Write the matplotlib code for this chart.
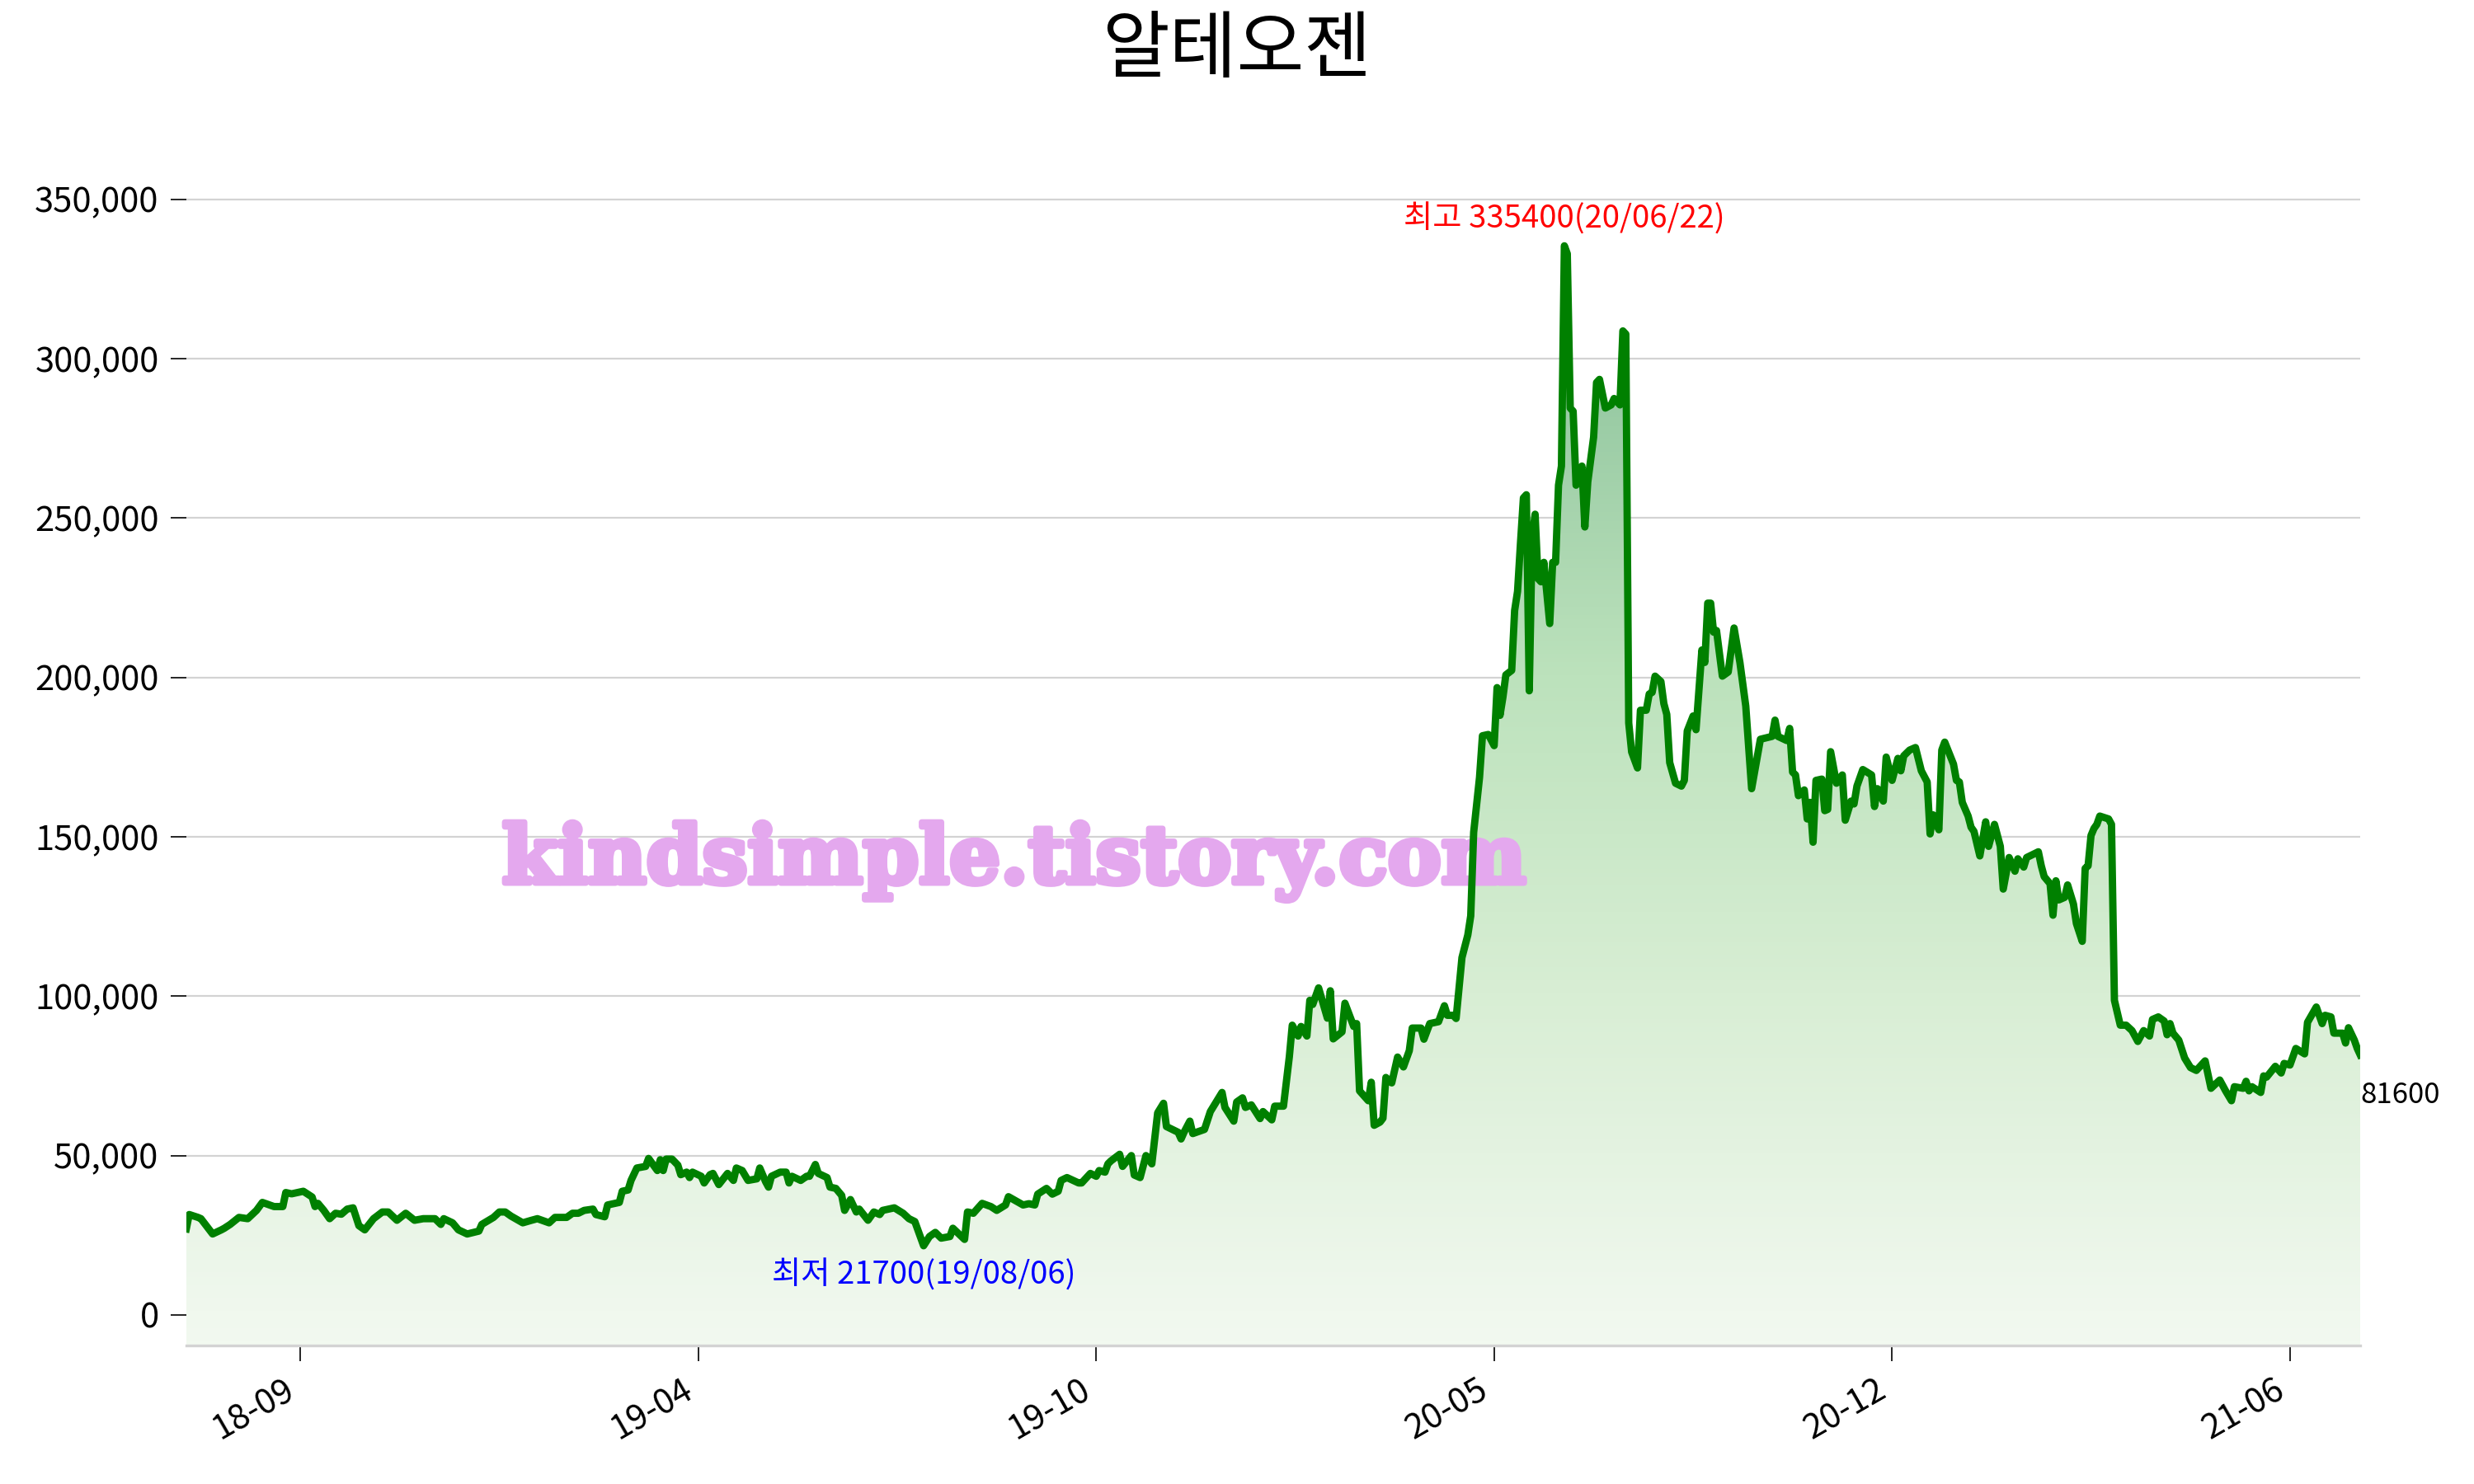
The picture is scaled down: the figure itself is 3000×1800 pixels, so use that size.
import numpy as np
import matplotlib
matplotlib.use('Agg')
import matplotlib.pyplot as plt
import matplotlib.patheffects as pe
from matplotlib.colors import LinearSegmentedColormap
from matplotlib.ticker import FuncFormatter

plt.rcParams['font.family'] = ['Noto Sans CJK KR', 'DejaVu Sans']

title = '알테오젠'
high_date = '20/06/22'
low_date = '19/08/06'
watermark = 'kindsimple.tistory.com'

xtick_pos = [39, 175, 311, 447, 583, 719]
xtick_labels = ['18-09', '19-04', '19-10', '20-05', '20-12', '21-06']

# trading-day index and close price (thousand won)
days = [0, 1, 4, 5, 9, 12, 13, 15, 18, 21, 24, 26, 30, 33, 34, 36, 40, 43, 44, 45,
        47, 49, 51, 53, 55, 57, 59, 61, 64, 67, 69, 72, 75, 78, 81, 85, 87, 88, 91, 93,
        96, 100, 101, 105, 107, 109, 111, 115, 118, 120, 124, 126, 130, 132, 134, 136, 139, 140, 143, 144,
        148, 149, 151, 152, 154, 157, 158, 161, 162, 163, 164, 166, 168, 169, 171, 172, 173, 176, 177, 179,
        180, 182, 185, 187, 188, 190, 192, 195, 196, 198, 199, 200, 203, 205, 206, 207, 210, 212, 213, 215,
        216, 219, 220, 222, 224, 225, 227, 229, 230, 233, 235, 237, 238, 242, 245, 247, 249, 252, 254, 256,
        258, 261, 262, 266, 267, 269, 272, 275, 277, 280, 281, 286, 288, 290, 291, 294, 296, 298, 299, 301,
        305, 306, 309, 311, 312, 314, 315, 316, 319, 320, 323, 324, 326, 328, 330, 332, 334, 335, 339, 340,
        341, 343, 344, 348, 350, 354, 355, 358, 359, 361, 362, 364, 367, 368, 371, 372, 375, 377, 378, 380,
        381, 383, 384, 385, 387, 390, 391, 392, 395, 396, 399, 400, 401, 404, 405, 406, 408, 409, 410, 412,
        414, 416, 418, 419, 422, 423, 425, 428, 430, 431, 433, 434, 436, 438, 439, 440, 442, 443, 445, 447,
        448, 449, 450, 451, 453, 454, 455, 456, 457, 458, 459, 460, 461, 462, 463, 464, 466, 467, 468, 469,
        470, 471, 472, 473, 474, 475, 477, 478, 479, 481, 482, 483, 485, 487, 488, 490, 491, 492, 493, 494,
        496, 497, 499, 500, 501, 502, 504, 505, 506, 507, 509, 511, 512, 513, 515, 516, 518, 519, 520, 521,
        522, 523, 525, 527, 529, 531, 533, 535, 538, 542, 543, 544, 547, 548, 549, 550, 551, 553, 554, 555,
        556, 557, 559, 560, 561, 562, 564, 566, 567, 569, 570, 571, 573, 576, 577, 578, 580, 581, 583, 585,
        586, 587, 589, 591, 593, 595, 596, 597, 599, 600, 601, 604, 605, 606, 607, 609, 610, 611, 613, 615,
        616, 618, 620, 621, 623, 625, 626, 628, 629, 633, 634, 635, 637, 638, 639, 640, 642, 643, 645, 646,
        648, 649, 650, 651, 652, 653, 654, 657, 658, 659, 660, 661, 663, 665, 667, 669, 671, 672, 674, 676,
        677, 678, 679, 681, 683, 685, 687, 690, 692, 695, 697, 699, 700, 703, 704, 705, 706, 709, 710, 711,
        714, 716, 717, 719, 721, 724, 725, 728, 730, 731, 733, 734, 737, 738, 739, 741, 742, 743]

price_k = [27.0, 31.5, 30.6, 30.2, 25.4, 26.7, 27.2, 28.4, 30.6, 30.2, 32.8, 35.3, 34.0, 34.0, 38.4, 38.0, 38.8, 37.0, 34.0, 35.0,
           32.8, 30.2, 31.9, 31.6, 33.2, 33.6, 28.0, 26.7, 30.2, 32.3, 32.3, 29.7, 31.9, 29.7, 30.2, 30.2, 28.4, 30.2, 28.9, 26.7,
           25.4, 26.3, 28.4, 30.6, 32.3, 32.3, 31.0, 28.9, 29.7, 30.2, 28.9, 30.6, 30.6, 31.9, 31.9, 32.8, 33.2, 31.5, 30.8, 34.5,
           35.3, 38.8, 39.2, 42.2, 46.1, 46.6, 49.1, 45.3, 48.7, 45.3, 48.9, 48.9, 47.0, 44.0, 44.8, 43.1, 44.8, 43.5, 41.4, 44.0,
           44.4, 40.9, 44.4, 42.2, 46.1, 45.3, 42.2, 42.7, 46.1, 41.8, 40.1, 43.5, 44.8, 44.8, 41.4, 43.5, 42.2, 43.5, 43.5, 47.2,
           44.4, 43.1, 40.1, 39.7, 37.5, 32.8, 36.2, 32.3, 33.2, 29.7, 32.3, 31.5, 32.8, 33.6, 31.9, 30.2, 29.3, 21.7, 24.6, 25.9,
           24.1, 24.6, 27.2, 23.7, 32.3, 31.9, 35.0, 34.0, 32.8, 34.5, 37.1, 34.5, 34.9, 34.5, 37.9, 39.7, 37.9, 38.8, 42.2, 43.1,
           41.4, 41.4, 44.4, 43.5, 45.3, 44.8, 47.4, 48.3, 50.4, 46.6, 50.0, 43.9, 43.1, 50.0, 47.4, 63.4, 66.4, 59.1, 57.3, 55.2,
           57.3, 60.8, 56.9, 58.2, 63.8, 69.8, 65.1, 60.8, 66.8, 68.1, 65.1, 65.9, 61.6, 63.8, 61.2, 65.5, 65.5, 81.0, 90.9, 87.5,
           90.5, 87.5, 98.7, 97.4, 102.6, 93.1, 101.7, 86.6, 88.8, 97.8, 90.5, 91.4, 70.3, 67.2, 73.0, 59.5, 60.5, 61.7, 74.5, 72.8,
           80.9, 77.8, 82.9, 90.0, 90.0, 86.5, 91.4, 92.0, 97.0, 94.0, 94.0, 93.0, 112.1, 119.2, 125.2, 151.4, 168.6, 181.7, 182.1, 178.6,
           196.8, 188.1, 193.8, 200.8, 202.2, 221.0, 227.0, 242.1, 256.3, 257.3, 195.8, 244.2, 251.2, 231.0, 230.0, 236.1, 216.9, 236.1, 236.1, 260.3,
           266.3, 335.4, 332.9, 284.5, 283.5, 260.3, 266.3, 247.2, 261.3, 275.4, 292.5, 293.5, 284.5, 285.5, 287.5, 285.5, 308.7, 307.7, 185.7, 176.6,
           171.6, 189.7, 189.7, 194.8, 195.3, 200.4, 198.7, 191.8, 188.4, 173.3, 166.8, 165.9, 167.7, 183.2, 187.9, 183.6, 208.6, 204.7, 223.3, 223.3,
           214.2, 214.7, 200.4, 201.7, 215.5, 204.7, 191.0, 165.1, 180.6, 181.5, 186.6, 181.5, 180.2, 184.0, 170.3, 169.4, 162.9, 164.7, 155.6, 160.8,
           148.3, 167.7, 168.1, 158.2, 158.6, 176.7, 166.8, 169.4, 155.2, 161.2, 160.3, 165.9, 171.1, 169.4, 159.5, 165.1, 161.2, 175.0, 167.7, 174.6,
           170.7, 175.4, 177.2, 178.0, 170.7, 167.2, 150.9, 156.9, 152.2, 177.2, 179.7, 172.8, 167.7, 167.2, 160.8, 156.5, 153.0, 151.7, 144.0, 154.7,
           147.0, 153.9, 147.0, 133.6, 143.5, 139.2, 143.1, 140.5, 143.5, 145.3, 140.9, 137.5, 135.3, 125.4, 136.2, 130.2, 131.0, 134.9, 128.9, 122.8,
           117.2, 140.1, 140.9, 150.4, 152.6, 153.9, 156.5, 155.6, 153.9, 98.7, 94.8, 90.9, 90.9, 89.2, 85.8, 89.2, 87.5, 92.7, 93.5, 92.2,
           87.9, 91.4, 88.4, 86.2, 80.6, 77.6, 76.7, 79.7, 71.1, 73.7, 70.3, 67.2, 71.6, 71.1, 73.3, 70.3, 71.6, 69.8, 75.0, 74.6,
           78.0, 75.9, 78.9, 78.4, 83.6, 81.9, 91.8, 96.6, 91.4, 94.0, 93.5, 88.4, 88.4, 85.3, 90.1, 86.2, 83.6, 81.6]

days = np.array(days)
prices = np.round(np.array(price_k) * 1000).astype(int)

fig = plt.figure(figsize=(15, 9), dpi=200)
ax = fig.add_axes([0.0753, 0.0933, 0.8787, 0.7939])
ymin, ymax = -9600, 360000

# gradient fill under the line
cmap = LinearSegmentedColormap.from_list('fill', [(0, '#f2f9f0'), (0.03, '#f0f8ee'), (0.32, '#d8eed4'),
                                                  (0.61, '#bce2bc'), (0.9, '#93c7a0'), (1, '#8cc39b')])
grad = np.linspace(0, 1, 256).reshape(-1, 1)
im = ax.imshow(grad, extent=[days[0], days[-1], ymin, prices.max()], origin='lower',
               aspect='auto', cmap=cmap, zorder=1)
fb = ax.fill_between(days, prices, ymin, facecolor='none', edgecolor='none')
im.set_clip_path(fb.get_paths()[0], transform=ax.transData)

ax.plot(days, prices, color='green', lw=3.2, zorder=3, solid_joinstyle='round')

# watermark, thickened with a stroke of the same colour
wm_color = '#e4a8ee'
ax.text(0.381, 0.3926, watermark, transform=ax.transAxes, ha='center', va='baseline',
        fontsize=35, fontweight='bold', family='DejaVu Serif', color=wm_color, zorder=2,
        path_effects=[pe.withStroke(linewidth=2.5, foreground=wm_color)])

imax = prices.argmax()
imin = prices.argmin()
ax.text(days[imax], prices[imax] * 1.01, f'최고 {prices[imax]}({high_date})', color='red',
        ha='center', va='bottom', fontsize=13.8, zorder=4)
ax.text(days[imin], prices[imin] * 0.8, f'최저 {prices[imin]}({low_date})', color='blue',
        ha='center', va='top', fontsize=13.8, zorder=4)
ax.text(days[-1], prices[-1] * 0.9, str(prices[-1]), ha='left', va='top', fontsize=12.5, zorder=4)

ax.set_xlim(days[0], days[-1])
ax.set_ylim(ymin, ymax)
ax.set_yticks(range(0, 350001, 50000))
ax.yaxis.set_major_formatter(FuncFormatter(lambda v, p: f'{int(v):,}'))
ax.set_xticks(xtick_pos)
ax.set_xticklabels(xtick_labels, rotation=30, ha='right')
ax.tick_params(axis='both', labelsize=15, length=7, width=0.6, pad=5)

ax.yaxis.grid(True, color='lightgray', lw=0.8)
ax.set_axisbelow(True)
for s in ['left', 'top', 'right']:
    ax.spines[s].set_visible(False)
ax.spines['bottom'].set_color('lightgray')
ax.spines['bottom'].set_linewidth(1.2)

fig.text(0.5, 0.9656, title, ha='center', va='center', fontsize=32)

fig.savefig('out.png', dpi=200)
